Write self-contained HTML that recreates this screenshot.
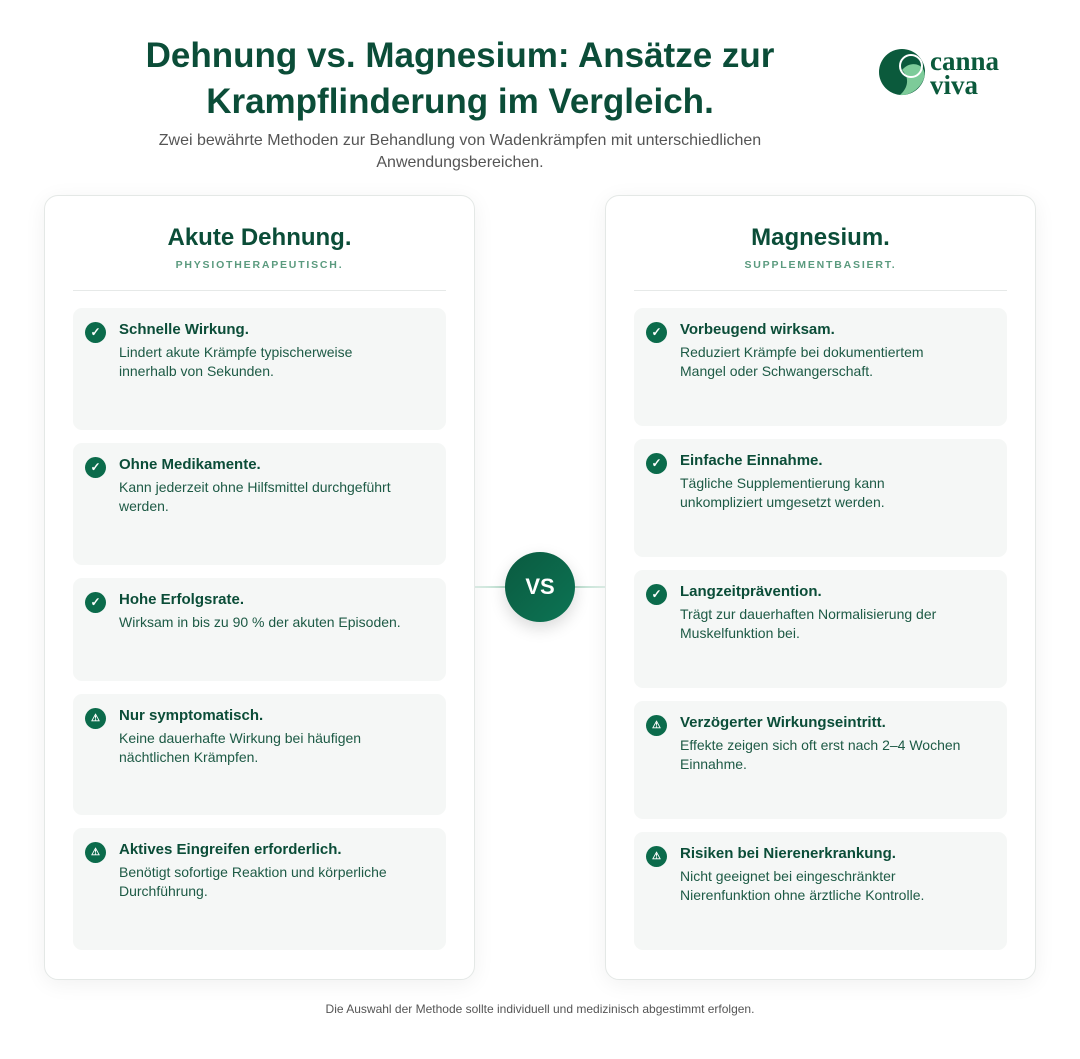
<!DOCTYPE html>
<html><head><meta charset="utf-8"><style>
*{margin:0;padding:0;box-sizing:border-box}
body{width:1080px;height:1059px;background:#fff;font-family:"Liberation Sans",sans-serif;position:relative;overflow:hidden;color:#0d4d3a}
.t{position:absolute;left:0;width:920px;text-align:center;font-weight:bold;font-size:35px;color:#0b4d38;line-height:46px;top:33px}
.sub{position:absolute;left:120px;width:680px;text-align:center;font-size:16px;color:#555;line-height:22px;top:130px}
.card{position:absolute;top:195px;width:431px;height:785px;border:1.5px solid #e4e8e6;border-radius:14px;background:#fff;box-shadow:0 4px 22px rgba(0,0,0,.06)}
.card h2{position:absolute;top:28px;left:0;right:0;text-align:center;font-size:24px;color:#0b4d38}
.card .k{position:absolute;top:63px;left:0;right:0;text-align:center;font-size:10.5px;font-weight:bold;letter-spacing:1.8px;color:#5a9a7e}
.card .hr{position:absolute;top:94px;left:28px;right:28px;height:1px;background:#e6e9e8}
.it{position:absolute;left:28px;width:373px;background:#f5f7f6;border-radius:9px}
.ic{position:absolute;left:12px;top:14px;width:21px;height:21px;border-radius:50%;background:#0b6b4b;color:#fff;font-size:12px;font-weight:bold;text-align:center;line-height:21px}
.it b{position:absolute;left:46px;top:13px;font-size:15px;color:#0b4d38}
.it p{position:absolute;left:46px;top:35px;width:282px;font-size:14px;line-height:19px;color:#1d5a45}
.vs{position:absolute;left:505px;top:552px;width:70px;height:70px;border-radius:50%;background:linear-gradient(135deg,#0a5a40,#0d7454);color:#fff;font-weight:bold;font-size:22px;text-align:center;line-height:70px;box-shadow:0 6px 16px rgba(0,0,0,.15)}
.ln{position:absolute;left:472px;width:136px;top:586px;height:2px;background:linear-gradient(90deg,rgba(120,190,160,.2),#8cc7ad,rgba(120,190,160,.2))}
.foot{position:absolute;top:1002px;left:0;width:1080px;text-align:center;font-size:12px;color:#555}
</style></head><body>
<div class="t">Dehnung vs. Magnesium: Ansätze zur<br>Krampflinderung im Vergleich.</div>
<div class="sub">Zwei bewährte Methoden zur Behandlung von Wadenkrämpfen mit unterschiedlichen Anwendungsbereichen.</div>
<svg style="position:absolute;left:878px;top:48px" width="150" height="50">
<circle cx="24" cy="24" r="23" fill="#0b5a3c"/>
<path d="M24 22 C34 10 50 18 46 30 C42 42 30 48 22 47 C30 40 32 30 24 22Z" fill="#7dcb99"/>
<circle cx="33" cy="18" r="11" fill="none" stroke="#fff" stroke-width="2"/>
<text x="52" y="22" font-family="Liberation Serif,serif" font-weight="bold" font-size="27" fill="#0b5a3c">canna</text>
<text x="52" y="46" font-family="Liberation Serif,serif" font-weight="bold" font-size="27" fill="#0b5a3c">viva</text>
</svg>
<div class="ln"></div>
<div class="card" style="left:44px"><h2>Akute Dehnung.</h2><div class="k">PHYSIOTHERAPEUTISCH.</div><div class="hr"></div>
<div class="it" style="top:112px;height:122px"><div class="ic">✓</div><b>Schnelle Wirkung.</b><p>Lindert akute Krämpfe typischerweise innerhalb von Sekunden.</p></div>
<div class="it" style="top:247px;height:122px"><div class="ic">✓</div><b>Ohne Medikamente.</b><p>Kann jederzeit ohne Hilfsmittel durchgeführt werden.</p></div>
<div class="it" style="top:382px;height:103px"><div class="ic">✓</div><b>Hohe Erfolgsrate.</b><p>Wirksam in bis zu 90 % der akuten Episoden.</p></div>
<div class="it" style="top:498px;height:121px"><div class="ic" style="font-size:10px">⚠</div><b>Nur symptomatisch.</b><p>Keine dauerhafte Wirkung bei häufigen nächtlichen Krämpfen.</p></div>
<div class="it" style="top:632px;height:122px"><div class="ic" style="font-size:10px">⚠</div><b>Aktives Eingreifen erforderlich.</b><p>Benötigt sofortige Reaktion und körperliche Durchführung.</p></div>
</div>
<div class="card" style="left:605px"><h2>Magnesium.</h2><div class="k">SUPPLEMENTBASIERT.</div><div class="hr"></div>
<div class="it" style="top:112px;height:118px"><div class="ic">✓</div><b>Vorbeugend wirksam.</b><p>Reduziert Krämpfe bei dokumentiertem Mangel oder Schwangerschaft.</p></div>
<div class="it" style="top:243px;height:118px"><div class="ic">✓</div><b>Einfache Einnahme.</b><p>Tägliche Supplementierung kann unkompliziert umgesetzt werden.</p></div>
<div class="it" style="top:374px;height:118px"><div class="ic">✓</div><b>Langzeitprävention.</b><p>Trägt zur dauerhaften Normalisierung der Muskelfunktion bei.</p></div>
<div class="it" style="top:505px;height:118px"><div class="ic" style="font-size:10px">⚠</div><b>Verzögerter Wirkungseintritt.</b><p>Effekte zeigen sich oft erst nach 2–4 Wochen Einnahme.</p></div>
<div class="it" style="top:636px;height:118px"><div class="ic" style="font-size:10px">⚠</div><b>Risiken bei Nierenerkrankung.</b><p>Nicht geeignet bei eingeschränkter Nierenfunktion ohne ärztliche Kontrolle.</p></div>
</div>
<div class="vs">VS</div>
<div class="foot">Die Auswahl der Methode sollte individuell und medizinisch abgestimmt erfolgen.</div>
</body></html>
